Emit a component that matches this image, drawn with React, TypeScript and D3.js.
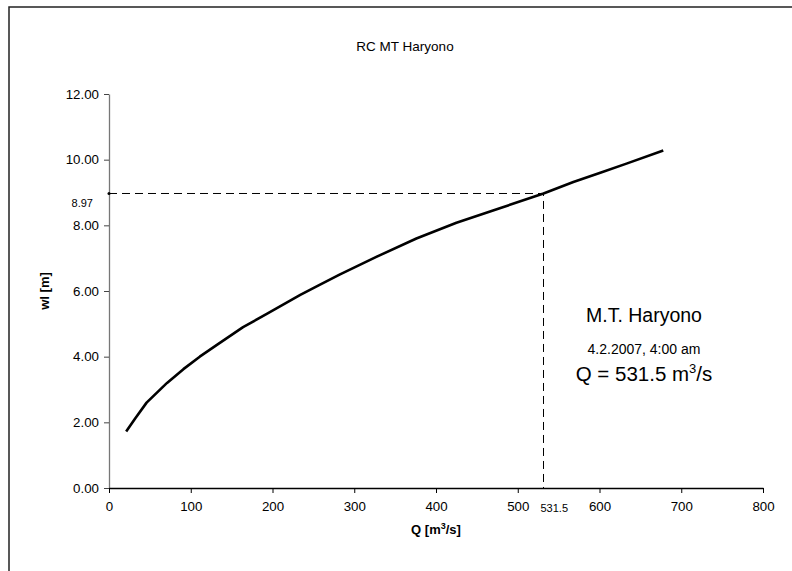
import React, { useEffect, useRef } from 'react';
import * as d3 from 'd3';

// rating curve
const discharge = [21, 32, 46, 71, 91, 111, 132, 164, 193, 234, 257, 282, 327, 376, 425, 478, 531.5, 568, 601, 633, 678];
const waterLevel = [1.72, 2.12, 2.6, 3.2, 3.62, 4.0, 4.36, 4.9, 5.3, 5.88, 6.18, 6.5, 7.04, 7.6, 8.08, 8.52, 8.97, 9.32, 9.6, 9.88, 10.28];

const xTicks = [0, 100, 200, 300, 400, 500, 600, 700, 800];
const yTicks = [0, 2, 4, 6, 8, 10, 12];

const markQ = 531.5;
const markWl = 8.97;

const chartTitle = 'RC MT Haryono';
const stationName = 'M.T. Haryono';
const stationDate = '4.2.2007, 4:00 am';

const FONT = '"Liberation Sans", Arial, sans-serif';

const App = () => {
  const ref = useRef<SVGSVGElement | null>(null);

  useEffect(() => {
    const width = 792;
    const height = 571;
    const left = 109;
    const right = 763;
    const top = 94;
    const bottom = 488;

    const svg = d3.select(ref.current);
    svg.selectAll('*').remove();
    svg.attr('width', width).attr('height', height);

    // outer chart frame (runs off the right and bottom edge)
    svg
      .append('rect')
      .attr('x', 9)
      .attr('y', 7)
      .attr('width', 800)
      .attr('height', 600)
      .attr('fill', '#fff')
      .attr('stroke', '#222')
      .attr('stroke-width', 1.5);

    const x = d3.scaleLinear().domain([0, 800]).range([left, right]);
    const y = d3.scaleLinear().domain([0, 12]).range([bottom, top]);

    svg
      .append('text')
      .attr('x', 405)
      .attr('y', 51)
      .attr('text-anchor', 'middle')
      .attr('font-family', FONT)
      .attr('font-size', 13.5)
      .text(chartTitle);

    // y axis
    const yAxis = svg
      .append('g')
      .attr('transform', `translate(${left},0)`)
      .call(
        d3
          .axisLeft(y)
          .tickValues(yTicks)
          .tickFormat(d3.format('.2f'))
          .tickSize(5)
          .tickSizeOuter(0)
      );
    yAxis.select('.domain').attr('stroke', '#777').attr('stroke-width', 1.3);
    yAxis.selectAll('.tick line').attr('stroke', '#444');
    yAxis
      .selectAll('.tick text')
      .attr('font-family', FONT)
      .attr('font-size', 13.3)
      .attr('fill', '#000')
      .attr('x', -10);

    // x axis
    const xAxis = svg
      .append('g')
      .attr('transform', `translate(0,${bottom})`)
      .call(d3.axisBottom(x).tickValues(xTicks).tickSize(5).tickSizeOuter(0));
    xAxis.select('.domain').attr('stroke', '#000').attr('stroke-width', 1.3);
    xAxis
      .selectAll('.tick text')
      .attr('font-family', FONT)
      .attr('font-size', 13.3)
      .attr('fill', '#000')
      .attr('y', 14);

    // axis titles
    svg
      .append('text')
      .attr('transform', `translate(49,${(top + bottom) / 2}) rotate(-90)`)
      .attr('text-anchor', 'middle')
      .attr('font-family', FONT)
      .attr('font-size', 13)
      .attr('font-weight', 'bold')
      .text('wl [m]');

    const xTitle = svg
      .append('text')
      .attr('x', (left + right) / 2)
      .attr('y', 534)
      .attr('text-anchor', 'middle')
      .attr('font-family', FONT)
      .attr('font-size', 13)
      .attr('font-weight', 'bold');
    xTitle.append('tspan').text('Q [m');
    xTitle.append('tspan').attr('dy', -5).attr('font-size', 9).text('3');
    xTitle.append('tspan').attr('dy', 5).text('/s]');

    // dashed marker lines
    svg
      .append('path')
      .attr('d', `M${x(0)},${y(markWl)}H${x(markQ)}V${y(0)}`)
      .attr('fill', 'none')
      .attr('stroke', '#000')
      .attr('stroke-width', 1)
      .attr('stroke-dasharray', '8,5');
    svg.append('circle').attr('cx', x(0)).attr('cy', y(markWl)).attr('r', 1.5).attr('fill', '#000');

    svg
      .append('text')
      .attr('x', x(0) - 16)
      .attr('y', y(markWl) + 14)
      .attr('text-anchor', 'end')
      .attr('font-family', FONT)
      .attr('font-size', 11)
      .text(markWl.toFixed(2));
    svg
      .append('text')
      .attr('x', x(markQ) - 3)
      .attr('y', bottom + 24)
      .attr('font-family', FONT)
      .attr('font-size', 11)
      .text(String(markQ));

    // rating curve
    const pts = discharge.map((q, i) => [q, waterLevel[i]] as [number, number]);
    const line = d3
      .line<[number, number]>()
      .x((d) => x(d[0]))
      .y((d) => y(d[1]));
    svg
      .append('path')
      .attr('d', line(pts))
      .attr('fill', 'none')
      .attr('stroke', '#000')
      .attr('stroke-width', 2.6)
      .attr('stroke-linejoin', 'round');

    // station annotation
    const cx = 644;
    svg
      .append('text')
      .attr('x', cx)
      .attr('y', 322)
      .attr('text-anchor', 'middle')
      .attr('font-family', FONT)
      .attr('font-size', 19.5)
      .text(stationName);
    svg
      .append('text')
      .attr('x', cx)
      .attr('y', 354)
      .attr('text-anchor', 'middle')
      .attr('font-family', FONT)
      .attr('font-size', 14)
      .text(stationDate);
    const q = svg
      .append('text')
      .attr('x', cx)
      .attr('y', 381)
      .attr('text-anchor', 'middle')
      .attr('font-family', FONT)
      .attr('font-size', 20.5);
    q.append('tspan').text(`Q = ${markQ} m`);
    q.append('tspan').attr('dy', -8).attr('font-size', 13).text('3');
    q.append('tspan').attr('dy', 8).text('/s');
  }, []);

  return <svg ref={ref} style={{ position: 'absolute', left: 0, top: 0 }} />;
};

export default App;
